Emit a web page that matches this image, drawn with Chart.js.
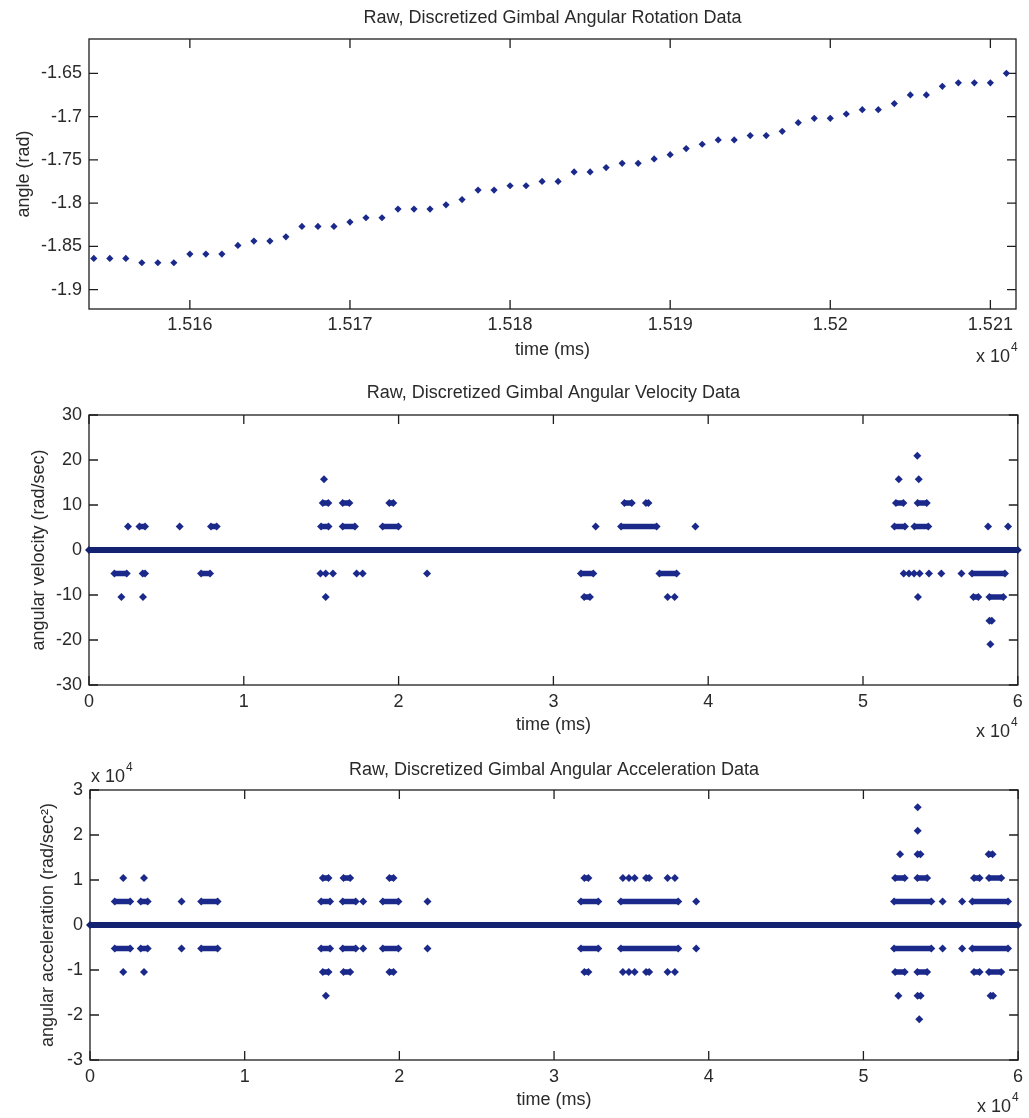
<!DOCTYPE html>
<html>
<head>
<meta charset="utf-8">
<title>Raw, Discretized Gimbal Data</title>
<script src="https://cdn.jsdelivr.net/npm/chart.js@4.4.1/dist/chart.umd.min.js"></script>
<style>
  body { margin: 0; background: #fff; }
  #page { position: relative; width: 1029px; height: 1118px; overflow: hidden; }
  canvas { position: absolute; left: 0; }
</style>
</head>
<body>
<div id="page">
  <canvas id="angleChart" width="1029" height="375" style="top:0"></canvas>
  <canvas id="velChart" width="1029" height="375" style="top:375px"></canvas>
  <canvas id="accChart" width="1029" height="368" style="top:750px"></canvas>
</div>
<script>
// ---- rotation data (time in ms, angle in rad) ----
const angleTime = [
  15154, 15155, 15156, 15157, 15158, 15159, 15160, 15161, 15162, 15163,
  15164, 15165, 15166, 15167, 15168, 15169, 15170, 15171, 15172, 15173,
  15174, 15175, 15176, 15177, 15178, 15179, 15180, 15181, 15182, 15183,
  15184, 15185, 15186, 15187, 15188, 15189, 15190, 15191, 15192, 15193,
  15194, 15195, 15196, 15197, 15198, 15199, 15200, 15201, 15202, 15203,
  15204, 15205, 15206, 15207, 15208, 15209, 15210, 15211
];
const angleValues = [
  -1.864, -1.864, -1.864, -1.869, -1.869, -1.869, -1.859, -1.859, -1.859, -1.849,
  -1.844, -1.844, -1.839, -1.827, -1.827, -1.827, -1.822, -1.817, -1.817, -1.807,
  -1.807, -1.807, -1.802, -1.796, -1.785, -1.785, -1.780, -1.780, -1.775, -1.775,
  -1.764, -1.764, -1.759, -1.754, -1.754, -1.749, -1.744, -1.737, -1.732, -1.727,
  -1.727, -1.722, -1.722, -1.717, -1.707, -1.702, -1.702, -1.697, -1.692, -1.692,
  -1.685, -1.675, -1.675, -1.665, -1.661, -1.661, -1.661, -1.650
];
const angleXTicks = [15160, 15170, 15180, 15190, 15200, 15210];
const angleXLabels = ["1.516", "1.517", "1.518", "1.519", "1.52", "1.521"];
const angleYTicks = [-1.9, -1.85, -1.8, -1.75, -1.7, -1.65];
const angleYLabels = ["-1.9", "-1.85", "-1.8", "-1.75", "-1.7", "-1.65"];

// ---- velocity data: runs of samples [start ms, end ms] at each level ----
const zeroTime = [0, 60000];
const zeroValue = [0, 0];
const velLevels = [20.94, 15.71, 10.47, 5.24, -5.24, -10.47, -15.71, -20.94];
const velUp4 = [[53510]];
const velUp3 = [[15180], [52310], [53600]];
const velUp2 = [[15100, 15460], [16390, 16820], [19400, 19660], [34590, 35060], [35980, 36140],
  [52130, 52610], [53530, 54120]];
const velUp1 = [[2520], [3260, 3620], [5860], [7880, 8250], [14990, 15470], [16390, 17180],
  [18970, 19990], [32730], [34370, 36670], [39170], [52030, 52710], [53320, 54220], [58080], [59370]];
const velDn1 = [[1640, 2440], [3470, 3620], [7240, 7820], [14950], [15290], [15760], [17290], [17680],
  [21840], [31780, 32580], [36850, 37960], [52630], [52970], [53300], [53660], [54260], [55060],
  [56360], [57040, 59170]];
const velDn2 = [[2090], [3490], [15290], [31990, 32360], [37380], [37830], [53550], [57130, 57450],
  [58170, 59070]];
const velDn3 = [[58170, 58320]];
const velDn4 = [[58230]];
const velRuns = [velUp4, velUp3, velUp2, velUp1, velDn1, velDn2, velDn3, velDn4];
const timeTicks = [0, 10000, 20000, 30000, 40000, 50000, 60000];
const timeLabels = ["0", "1", "2", "3", "4", "5", "6"];
const velYTicks = [-30, -20, -10, 0, 10, 20, 30];
const velYLabels = ["-30", "-20", "-10", "0", "10", "20", "30"];

// ---- acceleration data (rad/sec^2) ----
const accLevels = [26180, 20944, 15708, 10472, 5236, -5236, -10472, -15708, -20944];
const accUp5 = [[53510]];
const accUp4 = [[53510]];
const accUp3 = [[52370], [53500, 53690], [58100, 58350]];
const accUp2 = [[2150], [3490], [15050, 15420], [16390, 16820], [19360, 19620], [31960, 32220],
  [34450], [34840], [35210], [35950, 36150], [37340], [37810], [52050, 52670], [53490, 54120],
  [57150, 57510], [58120, 58910]];
const accUp1 = [[1600, 2600], [3280, 3730], [5920], [7190, 8250], [14940, 15520], [16340, 17180],
  [17660], [18930, 19940], [21820], [31740, 32860], [34320, 38030], [39190], [51980, 54390],
  [55120], [56380], [57040, 59350]];
const accDn1 = [[1600, 2600], [3280, 3730], [5920], [7190, 8250], [14940, 15520], [16340, 17180],
  [17660], [18930, 19940], [21820], [31740, 32860], [34320, 38030], [39190], [51980, 54390],
  [55120], [56380], [57040, 59350]];
const accDn2 = [[2150], [3490], [15050, 15420], [16390, 16820], [19360, 19620], [31960, 32220],
  [34450], [34840], [35210], [35950, 36150], [37340], [37810], [52050, 52670], [53490, 54120],
  [57150, 57510], [58120, 58910]];
const accDn3 = [[15250], [52260], [53500, 53700], [58220, 58380]];
const accDn4 = [[53610]];
const accRuns = [accUp5, accUp4, accUp3, accUp2, accUp1, accDn1, accDn2, accDn3, accDn4];
const accYTicks = [-30000, -20000, -10000, 0, 10000, 20000, 30000];
const accYLabels = ["-3", "-2", "-1", "0", "1", "2", "3"];

const markColor = "#1b2a8a";
const lineColor = "#142272";
const textColor = "#2a2a2a";
const fontFamily = '"Liberation Sans", Arial, Helvetica, sans-serif';

Chart.defaults.font.family = fontFamily;
Chart.defaults.font.size = 18;
Chart.defaults.color = textColor;

// box with inward ticks on all four sides, plus the "x 10^4" exponents
const matlabAxes = {
  id: "matlabAxes",
  beforeDatasetsDraw(chart, args, opts) {
    const { ctx, chartArea: a, scales } = chart;
    ctx.save();
    ctx.strokeStyle = "#1e1e1e";
    ctx.lineWidth = 1.3;
    ctx.strokeRect(a.left, a.top, a.right - a.left, a.bottom - a.top);
    ctx.beginPath();
    scales.x.ticks.forEach(t => {
      const px = scales.x.getPixelForValue(t.value);
      ctx.moveTo(px, a.bottom);
      ctx.lineTo(px, a.bottom - 9);
      ctx.moveTo(px, a.top);
      ctx.lineTo(px, a.top + 9);
    });
    scales.y.ticks.forEach(t => {
      const py = scales.y.getPixelForValue(t.value);
      ctx.moveTo(a.left, py);
      ctx.lineTo(a.left + 9, py);
      ctx.moveTo(a.right, py);
      ctx.lineTo(a.right - 9, py);
    });
    ctx.stroke();

    (opts.exponents || []).forEach(e => {
      ctx.fillStyle = textColor;
      ctx.textAlign = "left";
      ctx.textBaseline = "middle";
      ctx.font = "18px " + fontFamily;
      ctx.fillText("x 10", e.x, e.y);
      const w = ctx.measureText("x 10").width;
      ctx.font = "12px " + fontFamily;
      ctx.fillText("4", e.x + w + 1, e.y - 9);
    });
    ctx.restore();
  }
};

function fixedTicks(values) {
  return axis => {
    axis.ticks = values.map(v => ({ value: v }));
  };
}

function runPoints(runs, level) {
  const pts = [];
  runs.forEach(r => {
    r.forEach(x => pts.push({ x: x, y: level }));
    pts.push({ x: r[r.length - 1], y: null });
  });
  return pts;
}

function runDatasets(levels, runs) {
  const sets = [{
    data: zeroTime.map((t, i) => ({ x: t, y: zeroValue[i] })),
    showLine: true,
    borderColor: lineColor,
    backgroundColor: lineColor,
    borderWidth: 6,
    pointStyle: "rectRot",
    pointRadius: 4,
    pointBorderWidth: 0,
    clip: false
  }];
  levels.forEach((lv, i) => {
    sets.push({
      data: runPoints(runs[i], lv),
      showLine: true,
      spanGaps: false,
      borderColor: markColor,
      backgroundColor: markColor,
      borderWidth: 5.5,
      pointStyle: "rectRot",
      pointRadius: 4,
      pointBorderWidth: 0,
      clip: false
    });
  });
  return sets;
}

function makeOptions(cfg) {
  return {
    responsive: false,
    animation: false,
    events: [],
    layout: { padding: { left: 0, right: cfg.right, top: 0, bottom: 0 } },
    plugins: {
      legend: { display: false },
      tooltip: { enabled: false },
      title: {
        display: true,
        fullSize: false,
        text: cfg.title,
        color: textColor,
        font: { size: 18, weight: "normal" },
        padding: { top: cfg.titleTop, bottom: cfg.titleBottom }
      },
      matlabAxes: { exponents: cfg.exponents }
    },
    scales: {
      x: {
        type: "linear",
        min: cfg.xMin,
        max: cfg.xMax,
        afterBuildTicks: fixedTicks(cfg.xTicks),
        afterFit: s => { s.height = cfg.xHeight; },
        grid: { display: false, drawTicks: false },
        border: { display: false },
        ticks: {
          autoSkip: false,
          maxRotation: 0,
          padding: cfg.xTickPad,
          color: textColor,
          callback: (v, i) => cfg.xLabels[i]
        },
        title: {
          display: true,
          text: "time (ms)",
          color: textColor,
          padding: { top: 0, bottom: cfg.xTitlePad }
        }
      },
      y: {
        type: "linear",
        min: cfg.yMin,
        max: cfg.yMax,
        afterBuildTicks: fixedTicks(cfg.yTicks),
        afterFit: s => { s.width = cfg.yWidth; },
        grid: { display: false, drawTicks: false },
        border: { display: false },
        ticks: {
          autoSkip: false,
          padding: 7,
          color: textColor,
          callback: (v, i) => cfg.yLabels[i]
        },
        title: {
          display: true,
          text: cfg.yTitle,
          color: textColor,
          padding: { top: cfg.yTitlePad, bottom: 0 }
        }
      }
    }
  };
}

window.onload = function () {
  new Chart(document.getElementById("angleChart"), {
    type: "scatter",
    data: {
      datasets: [{
        data: angleTime.map((t, i) => ({ x: t, y: angleValues[i] })),
        backgroundColor: markColor,
        borderColor: markColor,
        pointStyle: "rectRot",
        pointRadius: 3.6,
        pointBorderWidth: 0,
        clip: false
      }]
    },
    options: makeOptions({
      title: "Raw, Discretized Gimbal Angular Rotation Data",
      titleTop: 7.2, titleBottom: 10.2,
      right: 13,
      xMin: 15153.7, xMax: 15211.6, xTicks: angleXTicks, xLabels: angleXLabels,
      xHeight: 66, xTickPad: 5.2, xTitlePad: 14.2,
      yMin: -1.9225, yMax: -1.6103, yTicks: angleYTicks, yLabels: angleYLabels,
      yWidth: 89, yTitle: "angle (rad)", yTitlePad: 13.2,
      exponents: [{ x: 976, y: 357 }]
    }),
    plugins: [matlabAxes]
  });

  new Chart(document.getElementById("velChart"), {
    type: "scatter",
    data: { datasets: runDatasets(velLevels, velRuns) },
    options: makeOptions({
      title: "Raw, Discretized Gimbal Angular Velocity Data",
      titleTop: 7.2, titleBottom: 11.2,
      right: 11,
      xMin: 0, xMax: 60000, xTicks: timeTicks, xLabels: timeLabels,
      xHeight: 65, xTickPad: 6.2, xTitlePad: 14.2,
      yMin: -30, yMax: 30, yTicks: velYTicks, yLabels: velYLabels,
      yWidth: 89, yTitle: "angular velocity (rad/sec)", yTitlePad: 28.2,
      exponents: [{ x: 976, y: 357 }]
    }),
    plugins: [matlabAxes]
  });

  new Chart(document.getElementById("accChart"), {
    type: "scatter",
    data: { datasets: runDatasets(accLevels, accRuns) },
    options: makeOptions({
      title: "Raw, Discretized Gimbal Angular Acceleration Data",
      titleTop: 9.2, titleBottom: 9.2,
      right: 10,
      xMin: 0, xMax: 60000, xTicks: timeTicks, xLabels: timeLabels,
      xHeight: 58, xTickPad: 5.9, xTitlePad: 7.2,
      yMin: -30000, yMax: 30000, yTicks: accYTicks, yLabels: accYLabels,
      yWidth: 90, yTitle: "angular acceleration (rad/sec²)", yTitlePad: 37.2,
      exponents: [{ x: 977, y: 357 }, { x: 91, y: 27 }]
    }),
    plugins: [matlabAxes]
  });
};
</script>
</body>
</html>
